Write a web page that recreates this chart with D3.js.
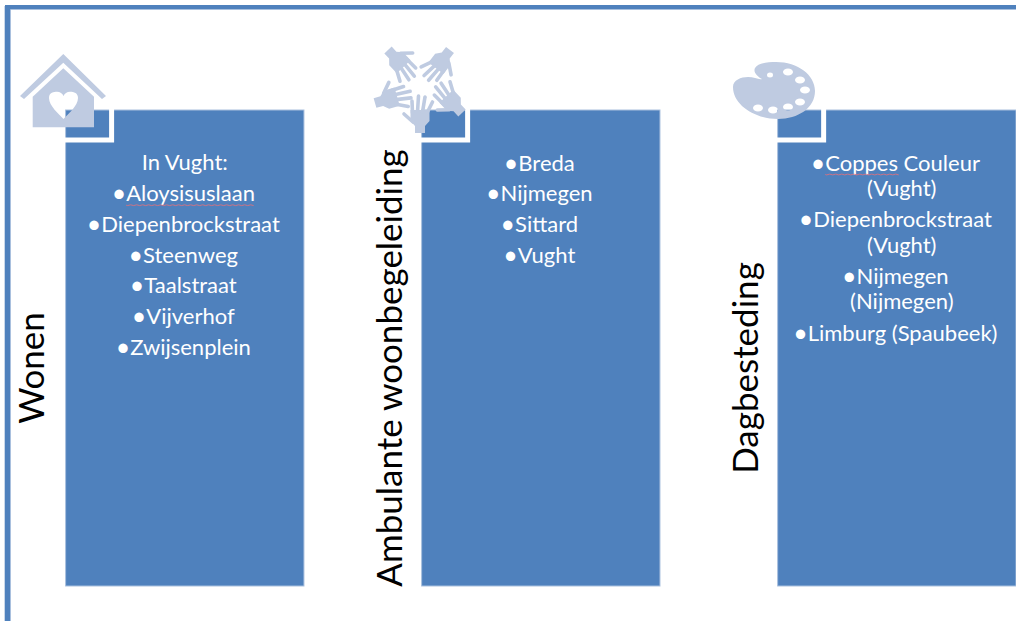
<!DOCTYPE html>
<html>
<head>
<meta charset="utf-8">
<script src="https://cdn.jsdelivr.net/npm/d3@7"></script>
<style>
  html, body { margin: 0; padding: 0; background: #fff; overflow: hidden; }
  text { font-family: Lato, sans-serif; }
</style>
</head>
<body>
<div id="chart"></div>
<script>
var categories = ["Wonen", "Ambulante woonbegeleiding", "Dagbesteding"];

// one list per column, a sublist is a bullet that wraps over two lines
var wonenItems = ["In Vught:", "•Aloysisuslaan", "•Diepenbrockstraat", "•Steenweg", "•Taalstraat", "•Vijverhof", "•Zwijsenplein"];
var ambulantItems = ["•Breda", "•Nijmegen", "•Sittard", "•Vught"];
var dagItems = [["•Coppes Couleur", "(Vught)"], ["•Diepenbrockstraat", "(Vught)"], ["•Nijmegen", "(Nijmegen)"], "•Limburg (Spaubeek)"];
var columnItems = [wonenItems, ambulantItems, dagItems];
var spellMarked = ["Aloysisuslaan", "Coppes"];

var width = 1016, height = 621;
var blue = "#4f81bd", edge = "#a9c0de", pale = "#bfcbe1";

var svg = d3.select("#chart").append("svg")
    .attr("width", width)
    .attr("height", height)
    .style("display", "block");

var x = d3.scaleBand()
    .domain(categories)
    .range([65.6, 1016])
    .paddingInner(0.3305);

var boxTop = 110, boxBottom = 586;
var centerY = (150 + 586) / 2;

// outer frame, only the top and left side are in the picture
svg.append("path")
    .attr("d", "M7.5,621V7.5H1016")
    .attr("fill", "none")
    .attr("stroke", blue)
    .attr("stroke-width", 5);
svg.append("path")
    .attr("d", "M10.5,621V9.5H1016")
    .attr("fill", "none")
    .attr("stroke", edge)
    .attr("stroke-width", 1);
svg.append("path")
    .attr("d", "M4.5,621V6")
    .attr("fill", "none")
    .attr("stroke", "#c9d8ea")
    .attr("stroke-width", 1);

var cols = svg.selectAll("g.col")
  .data(categories)
  .enter()
  .append("g")
    .attr("class", "col")
    .attr("transform", function(d) { return "translate(" + x(d) + ",0)"; });

cols.append("rect")
    .attr("x", 0)
    .attr("y", boxTop)
    .attr("width", x.bandwidth())
    .attr("height", boxBottom - boxTop)
    .attr("fill", blue)
    .attr("stroke", edge)
    .attr("stroke-width", 1);

// white corner line round the icon square
cols.append("path")
    .attr("d", "M-1," + (boxTop + 30) + "H46V" + (boxTop - 1))
    .attr("fill", "none")
    .attr("stroke", "#fff")
    .attr("stroke-width", 5);

// side titles
cols.append("text")
    .attr("transform", function(d, i) {
      return "translate(" + (i == 0 ? -30 : -28.5) + "," + centerY + ") rotate(-90)";
    })
    .attr("text-anchor", "middle")
    .attr("dominant-baseline", "middle")
    .attr("font-size", 35)
    .attr("fill", "#000")
    .text(function(d) { return d; });

// bullet text
var paraGap = 30.7, wrapGap = 26;
cols.each(function(d, i) {
  var g = d3.select(this);
  var y = 164.5;
  columnItems[i].forEach(function(item) {
    var lines = Array.isArray(item) ? item : [item];
    lines.forEach(function(line, j) {
      var t = g.append("text")
          .attr("x", x.bandwidth() / 2 + (j > 0 ? 5 : 0) + (line[0] == "•" ? -1.5 : 0))
          .attr("y", y)
          .attr("text-anchor", "middle")
          .attr("dominant-baseline", "middle")
          .attr("font-size", 22)
          .attr("fill", "#fff");
      if (line[0] == "•") {
        t.append("tspan").attr("font-size", 25).attr("dy", 1).text("•");
        t.append("tspan").attr("dy", -1).text(line.slice(1));
      } else {
        t.text(line);
      }
      // spell check squiggle under the marked words
      spellMarked.forEach(function(word) {
        var at = line.indexOf(word);
        if (at < 0) return;
        var n = t.node();
        var a = n.getStartPositionOfChar(at).x, b = n.getEndPositionOfChar(at + word.length - 1).x;
        var path = d3.path();
        path.moveTo(a, y + 10);
        for (var k = a; k < b; k += 3) path.lineTo(k + 1.5, y + 10 + ((k - a) % 6 ? -0.4 : 0.4));
        g.append("path").attr("d", path.toString()).attr("fill", "none")
          .attr("stroke", "#d9707f").attr("stroke-width", 0.9);
      });
      y += j < lines.length - 1 ? wrapGap : paraGap;
    });
  });
});

// icons, on top of the square
var house = "M63.3,68.3L94,96.7V127.3H32.7V96.7Z"
  + "M63.5,119C59,114 49,106 49,98C49,92 54,91.7 57,91.7C60,91.7 62.5,93.5 63.5,96C64.5,93.5 67,91.7 70,91.7C74,91.7 78,93 78,98C78,106 68,114 63.5,119Z";
svg.append("path").attr("d", house).attr("fill", pale).attr("fill-rule", "evenodd");
svg.append("path").attr("d", "M63.3,54L106,96L102,99L63.3,62.7L24,99L20,96Z").attr("fill", pale);

// hands: wrist position and turn of each one
var hands = [[388,50,-43], [450,50,37.6], [375,103,-106], [462,113,137], [420,133,180]];
var fingers = [[-7,20,-12.5,31], [-2.5,21,-5,36], [2.5,21,1.5,37], [7.5,20,8,32], [7,11,16,19]];
hands.forEach(function(p) {
  var h = svg.append("g")
      .attr("transform", "translate(" + p[0] + "," + p[1] + ") rotate(" + p[2] + ")")
      .attr("fill", pale)
      .attr("stroke", pale)
      .attr("stroke-linecap", "round");
  h.append("path").attr("d", "M-5,0H5V7L9.5,12V23H-9.5V12L-5,7Z").attr("stroke", "none");
  fingers.forEach(function(f) {
    h.append("line")
      .attr("x1", f[0]).attr("y1", f[1])
      .attr("x2", f[2]).attr("y2", f[3])
      .attr("stroke-width", 3.6);
  });
});

// palette with paint holes
var palette = "M762,79C757,76 753,72 755,68C758,63 768,62 776,62C798,62 815,75 815,91C815,108 798,119 778,119C755,119 733,105 733,87C733,80 741,77 748,77C754,77 759,80 762,79Z";
var holes = [[770,75,3,2.5], [788,72,5,3.5], [800,80,5,3.5], [805,90,5,3.5], [800,102,5,3.5], [788,107,5,3.5], [773,110,5,3.5], [758,108,5,3.5]];
holes.forEach(function(h) {
  palette += "M" + (h[0] - h[2]) + "," + h[1] + "a" + h[2] + "," + h[3] + " 0 1,0 " + (2 * h[2]) + ",0a" + h[2] + "," + h[3] + " 0 1,0 " + (-2 * h[2]) + ",0Z";
});
svg.append("path").attr("d", palette).attr("fill", pale).attr("fill-rule", "evenodd");
</script>
</body>
</html>
